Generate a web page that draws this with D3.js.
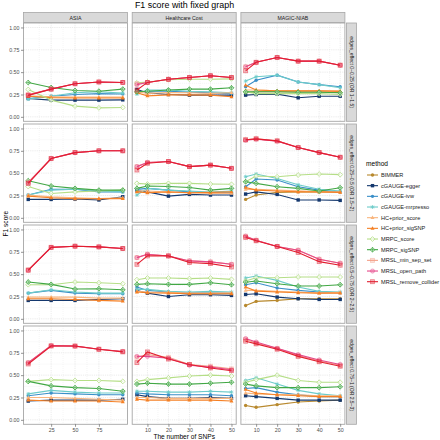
<!DOCTYPE html>
<html><head><meta charset="utf-8">
<script src="https://cdn.jsdelivr.net/npm/d3@7"></script>
<style>body{margin:0;background:#fff;} svg text{font-family:"Liberation Sans",Arial,sans-serif;}</style>
</head><body><svg id="chart" width="440" height="440"></svg>
<script>
// ---------- data ----------
const datasets = ["ASIA", "Healthcare Cost", "MAGIC-NIAB"];
const effects = ["edges_effect 0~0.25 (OR 1~1.5)", "edges_effect 0.25~0.5 (OR 1.5~2)",
                 "edges_effect 0.5~0.75 (OR 2~2.5)", "edges_effect 0.75~1 (OR 2.5~3)"];
const snpsASIA = [1, 25, 50, 75, 100];
const snpsOther = [5, 10, 20, 30, 40, 50];
const xTicksASIA = [25, 50, 75];
const xTicksOther = [10, 20, 30, 40, 50];
const yTicks = [0, 0.25, 0.5, 0.75, 1];
const yTickLabels = ["0.00", "0.25", "0.50", "0.75", "1.00"];
const methods = ["BIMMER", "cGAUGE-egger", "cGAUGE-ivw", "cGAUGE-mrpresso", "HC+prior_score",
  "HC+prior_sigSNP", "MRPC_score", "MRPC_sigSNP", "MRSL_min_sep_set", "MRSL_open_path", "MRSL_remove_collider"];

// values: [effect row][dataset column]
const vBIMMER = [
  [[], [], [0.27, 0.28, 0.28, 0.28, 0.28, 0.27]],
  [[], [], [0.206, 0.255, 0.285, 0.29, 0.29, 0.29]],
  [[], [], [0.15, 0.195, 0.206, 0.225, 0.225, 0.225]],
  [[], [], [0.16, 0.14, 0.17, 0.20, 0.21, 0.22]]
];
const vEgger = [
  [[0.205, 0.187, 0.187, 0.187, 0.19], [0.306, 0.27, 0.25, 0.243, 0.243, 0.243], [0.243, 0.25, 0.254, 0.213, 0.231, 0.231]],
  [[0.206, 0.206, 0.21, 0.20, 0.236], [0.303, 0.29, 0.243, 0.262, 0.255, 0.255], [0.266, 0.29, 0.262, 0.20, 0.20, 0.195]],
  [[0.206, 0.206, 0.206, 0.217, 0.225], [0.318, 0.288, 0.25, 0.27, 0.27, 0.262], [0.273, 0.28, 0.243, 0.225, 0.217, 0.217]],
  [[0.21, 0.22, 0.22, 0.22, 0.23], [0.28, 0.26, 0.24, 0.24, 0.25, 0.24], [0.27, 0.26, 0.24, 0.22, 0.22, 0.22]]
];
const vIvw = [
  [[0.205, 0.23, 0.25, 0.26, 0.255], [0.28, 0.287, 0.287, 0.276, 0.268, 0.26], [0.336, 0.41, 0.466, 0.39, 0.36, 0.336]],
  [[0.255, 0.32, 0.32, 0.29, 0.29], [0.318, 0.33, 0.31, 0.29, 0.28, 0.28], [0.348, 0.434, 0.423, 0.348, 0.31, 0.29]],
  [[0.288, 0.318, 0.288, 0.28, 0.28], [0.356, 0.318, 0.30, 0.292, 0.292, 0.288], [0.382, 0.404, 0.345, 0.318, 0.30, 0.292]],
  [[0.27, 0.30, 0.29, 0.28, 0.28], [0.30, 0.29, 0.28, 0.28, 0.28, 0.27], [0.35, 0.36, 0.31, 0.28, 0.26, 0.26]]
];
const vMrpresso = [
  [[0.198, 0.23, 0.27, 0.28, 0.265], [0.254, 0.30, 0.30, 0.287, 0.28, 0.27], [0.40, 0.448, 0.466, 0.39, 0.36, 0.325]],
  [[0.255, 0.31, 0.32, 0.30, 0.29], [0.255, 0.33, 0.31, 0.30, 0.288, 0.30], [0.46, 0.49, 0.44, 0.37, 0.32, 0.30]],
  [[0.288, 0.326, 0.30, 0.288, 0.288], [0.33, 0.33, 0.307, 0.30, 0.307, 0.30], [0.457, 0.479, 0.43, 0.356, 0.307, 0.30]],
  [[0.29, 0.33, 0.31, 0.30, 0.30], [0.32, 0.32, 0.31, 0.31, 0.32, 0.31], [0.44, 0.47, 0.40, 0.33, 0.29, 0.27]]
];
const vHCscore = [
  [[0.235, 0.225, 0.22, 0.22, 0.22], [0.28, 0.262, 0.273, 0.27, 0.262, 0.27], [0.30, 0.30, 0.29, 0.29, 0.29, 0.29]],
  [[0.255, 0.236, 0.225, 0.217, 0.225], [0.30, 0.30, 0.288, 0.28, 0.273, 0.273], [0.318, 0.318, 0.31, 0.303, 0.29, 0.29]],
  [[0.243, 0.243, 0.243, 0.232, 0.232], [0.307, 0.30, 0.296, 0.288, 0.288, 0.292], [0.318, 0.318, 0.307, 0.30, 0.288, 0.296]],
  [[0.25, 0.25, 0.24, 0.23, 0.22], [0.25, 0.25, 0.24, 0.24, 0.24, 0.24], [0.30, 0.29, 0.28, 0.28, 0.27, 0.27]]
];
const vHCsig = [
  [[0.23, 0.215, 0.21, 0.21, 0.21], [0.27, 0.235, 0.246, 0.246, 0.243, 0.224], [0.354, 0.30, 0.29, 0.29, 0.29, 0.285]],
  [[0.243, 0.225, 0.213, 0.213, 0.215], [0.29, 0.28, 0.29, 0.28, 0.285, 0.29], [0.34, 0.31, 0.30, 0.29, 0.29, 0.285]],
  [[0.225, 0.225, 0.217, 0.206, 0.198], [0.30, 0.292, 0.288, 0.28, 0.28, 0.28], [0.356, 0.31, 0.30, 0.292, 0.288, 0.288]],
  [[0.22, 0.21, 0.21, 0.21, 0.20], [0.23, 0.22, 0.22, 0.22, 0.22, 0.21], [0.34, 0.30, 0.28, 0.27, 0.26, 0.26]]
];
const vMRPCscore = [
  [[0.306, 0.187, 0.12, 0.10, 0.105], [0.38, 0.39, 0.415, 0.42, 0.42, 0.425], [0.28, 0.26, 0.26, 0.26, 0.26, 0.25]],
  [[0.35, 0.273, 0.29, 0.30, 0.31], [0.386, 0.378, 0.386, 0.386, 0.378, 0.375], [0.404, 0.468, 0.46, 0.479, 0.49, 0.483]],
  [[0.382, 0.382, 0.412, 0.404, 0.393], [0.438, 0.457, 0.457, 0.45, 0.457, 0.442], [0.423, 0.46, 0.46, 0.468, 0.468, 0.468]],
  [[0.43, 0.45, 0.44, 0.44, 0.43], [0.43, 0.45, 0.47, 0.49, 0.50, 0.49], [0.42, 0.45, 0.50, 0.44, 0.42, 0.42]]
];
const vMRPCsig = [
  [[0.384, 0.328, 0.295, 0.287, 0.31], [0.28, 0.287, 0.30, 0.31, 0.31, 0.325], [0.28, 0.28, 0.28, 0.275, 0.275, 0.27]],
  [[0.415, 0.356, 0.33, 0.31, 0.31], [0.33, 0.356, 0.35, 0.34, 0.31, 0.33], [0.404, 0.386, 0.348, 0.33, 0.30, 0.337]],
  [[0.412, 0.386, 0.333, 0.337, 0.326], [0.386, 0.393, 0.386, 0.386, 0.404, 0.382], [0.41, 0.423, 0.393, 0.367, 0.367, 0.382]],
  [[0.43, 0.38, 0.36, 0.35, 0.32], [0.40, 0.41, 0.40, 0.40, 0.41, 0.42], [0.40, 0.38, 0.36, 0.36, 0.36, 0.37]]
];
const vMinSep = [
  [[0.25, 0.31, 0.37, 0.39, 0.385], [0.37, 0.385, 0.42, 0.44, 0.46, 0.44], [0.56, 0.61, 0.664, 0.623, 0.623, 0.578]],
  [[0.40, 0.663, 0.73, 0.75, 0.75], [0.573, 0.62, 0.63, 0.573, 0.59, 0.554], [0.873, 0.884, 0.861, 0.786, 0.73, 0.678]],
  [[0.55, 0.80, 0.813, 0.805, 0.787], [0.685, 0.723, 0.704, 0.648, 0.637, 0.61], [0.925, 0.88, 0.81, 0.768, 0.667, 0.622]],
  [[0.64, 0.83, 0.825, 0.79, 0.765], [0.70, 0.73, 0.70, 0.62, 0.60, 0.57], [0.90, 0.86, 0.80, 0.72, 0.66, 0.61]]
];
const vOpenPath = [
  [[0.245, 0.31, 0.37, 0.39, 0.385], [0.36, 0.385, 0.42, 0.44, 0.46, 0.44], [0.56, 0.61, 0.664, 0.623, 0.623, 0.578]],
  [[0.39, 0.663, 0.73, 0.75, 0.75], [0.573, 0.62, 0.63, 0.573, 0.59, 0.554], [0.868, 0.88, 0.858, 0.786, 0.73, 0.678]],
  [[0.545, 0.80, 0.813, 0.805, 0.787], [0.685, 0.723, 0.704, 0.648, 0.637, 0.61], [0.925, 0.88, 0.81, 0.768, 0.667, 0.622]],
  [[0.64, 0.83, 0.825, 0.79, 0.765], [0.71, 0.71, 0.69, 0.61, 0.59, 0.56], [0.91, 0.87, 0.80, 0.73, 0.67, 0.62]]
];
const vRemoveCollider = [
  [[0.24, 0.31, 0.37, 0.39, 0.385], [0.30, 0.385, 0.42, 0.44, 0.46, 0.44], [0.515, 0.61, 0.664, 0.623, 0.623, 0.578]],
  [[0.385, 0.663, 0.73, 0.75, 0.75], [0.535, 0.61, 0.63, 0.573, 0.59, 0.554], [0.873, 0.884, 0.861, 0.786, 0.73, 0.678]],
  [[0.543, 0.80, 0.813, 0.805, 0.787], [0.61, 0.704, 0.704, 0.63, 0.618, 0.58], [0.91, 0.873, 0.81, 0.742, 0.64, 0.60]],
  [[0.625, 0.826, 0.826, 0.79, 0.76], [0.64, 0.76, 0.68, 0.62, 0.58, 0.55], [0.88, 0.85, 0.79, 0.71, 0.65, 0.60]]
];
const seriesValues = [vBIMMER, vEgger, vIvw, vMrpresso, vHCscore, vHCsig, vMRPCscore, vMRPCsig, vMinSep, vOpenPath, vRemoveCollider];

// ---------- styles ----------
const colors = ["#b8892e", "#14386e", "#3a8fc8", "#6ccbc9", "#f9b67e", "#f58025",
  "#b5de87", "#41a744", "#f4a089", "#e6478a", "#e21d2f"];
const shapes = ["circle", "square", "circle", "asterisk", "triangle", "triangle",
  "diamondOpen", "diamondPlus", "squareX", "circlePlus", "squareX"];

// ---------- layout ----------
const svg = d3.select("#chart");
const panelW = 104, panelH = 98.3, colGap = 4.7, rowStep = 101;
const left0 = 23.5, top0 = 23;
const colX = c => left0 + c * (panelW + colGap);
const rowY = r => top0 + r * rowStep;

svg.append("rect").attr("width", 440).attr("height", 440).attr("fill", "#fff");

const xScales = datasets.map((d, c) => {
  const xs = c === 0 ? snpsASIA : snpsOther;
  const [a, b] = d3.extent(xs); const e = (b - a) * 0.05;
  return d3.scaleLinear().domain([a - e, b + e]).range([colX(c), colX(c) + panelW]);
});
const xVals = c => c === 0 ? snpsASIA : snpsOther;
const xTicks = c => c === 0 ? xTicksASIA : xTicksOther;
const yScales = effects.map((e, r) => d3.scaleLinear().domain([-0.05, 1.05]).range([rowY(r) + panelH, rowY(r)]));

function drawShape(g, shape, cx, cy, col) {
  const s = 1.9;
  if (shape === "circle") {
    g.append("circle").attr("cx", cx).attr("cy", cy).attr("r", 1.7).attr("fill", col);
  } else if (shape === "square") {
    g.append("rect").attr("x", cx - 1.7).attr("y", cy - 1.7).attr("width", 3.4).attr("height", 3.4).attr("fill", col);
  } else if (shape === "triangle") {
    g.append("path").attr("d", `M${cx},${cy - 2.2}L${cx + 2},${cy + 1.4}L${cx - 2},${cy + 1.4}Z`).attr("fill", col);
  } else if (shape === "asterisk") {
    g.append("path").attr("d", `M${cx - s},${cy}H${cx + s}M${cx},${cy - s}V${cy + s}M${cx - 1.4},${cy - 1.4}L${cx + 1.4},${cy + 1.4}M${cx - 1.4},${cy + 1.4}L${cx + 1.4},${cy - 1.4}`)
      .attr("stroke", col).attr("stroke-width", 0.8).attr("fill", "none");
  } else if (shape === "diamondOpen" || shape === "diamondPlus") {
    const r = 2.4;
    g.append("path").attr("d", `M${cx},${cy - r}L${cx + r},${cy}L${cx},${cy + r}L${cx - r},${cy}Z`)
      .attr("fill", "#fff").attr("fill-opacity", 0.6).attr("stroke", col).attr("stroke-width", 0.8);
    if (shape === "diamondPlus")
      g.append("path").attr("d", `M${cx - r},${cy}H${cx + r}M${cx},${cy - r}V${cy + r}`).attr("stroke", col).attr("stroke-width", 0.6);
  } else if (shape === "squareX") {
    const r = 2.0;
    g.append("rect").attr("x", cx - r).attr("y", cy - r).attr("width", 2 * r).attr("height", 2 * r)
      .attr("fill", col).attr("fill-opacity", 0.3).attr("stroke", col).attr("stroke-opacity", 0.5).attr("stroke-width", 0.8);
  } else if (shape === "circlePlus") {
    g.append("circle").attr("cx", cx).attr("cy", cy).attr("r", 2.1)
      .attr("fill", col).attr("fill-opacity", 0.3).attr("stroke", col).attr("stroke-opacity", 0.5).attr("stroke-width", 0.8);
  }
}

// title
svg.append("text").attr("x", 184.5).attr("y", 8).attr("text-anchor", "middle")
  .attr("font-size", 8.9).attr("fill", "#000").text("F1 score with fixed graph");

// column strips
datasets.forEach((d, c) => {
  svg.append("rect").attr("x", colX(c)).attr("y", 12.5).attr("width", panelW).attr("height", 10)
    .attr("fill", "#d9d9d9").attr("stroke", "#a6a6a6").attr("stroke-width", 0.8);
  svg.append("text").attr("x", colX(c) + panelW / 2).attr("y", 19.5).attr("text-anchor", "middle")
    .attr("font-size", 5.2).attr("fill", "#1a1a1a").text(d);
});
// row strips
const stripX = colX(2) + panelW + 1.5;
effects.forEach((e, r) => {
  svg.append("rect").attr("x", stripX).attr("y", rowY(r)).attr("width", 10).attr("height", panelH)
    .attr("fill", "#d9d9d9").attr("stroke", "#a6a6a6").attr("stroke-width", 0.8);
  const cy = rowY(r) + panelH / 2;
  svg.append("text").attr("transform", `translate(${stripX + 3.3},${cy}) rotate(90)`)
    .attr("text-anchor", "middle").attr("font-size", 5.0).attr("fill", "#1a1a1a").text(e);
});

// panels
effects.forEach((e, r) => {
  const y = yScales[r];
  datasets.forEach((d, c) => {
    const x = xScales[c];
    const g = svg.append("g");
    const x0 = colX(c), y0 = rowY(r);
    const yMinor = [0.125, 0.375, 0.625, 0.875];
    yMinor.forEach(v => g.append("line").attr("x1", x0).attr("x2", x0 + panelW).attr("y1", y(v)).attr("y2", y(v))
      .attr("stroke", "#ebebeb").attr("stroke-width", 0.5).attr("stroke-dasharray", "1,1"));
    const xt = xTicks(c);
    const step = xt[1] - xt[0];
    const xMinor = [xt[0] - step / 2, ...xt.map(t => t + step / 2)].filter(v => v > x.domain()[0] && v < x.domain()[1]);
    xMinor.forEach(v => g.append("line").attr("x1", x(v)).attr("x2", x(v)).attr("y1", y0).attr("y2", y0 + panelH)
      .attr("stroke", "#ebebeb").attr("stroke-width", 0.5).attr("stroke-dasharray", "1,1"));
    yTicks.forEach(v => g.append("line").attr("x1", x0).attr("x2", x0 + panelW).attr("y1", y(v)).attr("y2", y(v))
      .attr("stroke", "#dedede").attr("stroke-width", 0.6).attr("stroke-dasharray", "1.2,1"));
    xt.forEach(v => g.append("line").attr("x1", x(v)).attr("x2", x(v)).attr("y1", y0).attr("y2", y0 + panelH)
      .attr("stroke", "#dedede").attr("stroke-width", 0.6).attr("stroke-dasharray", "1.2,1"));

    const xs = xVals(c);
    methods.forEach((m, k) => {
      const vals = seriesValues[k][r][c];
      if (!vals || !vals.length) return;
      const pts = vals.map((v, i) => [xs[i], v]);
      g.append("path").datum(pts)
        .attr("d", d3.line().x(p => x(p[0])).y(p => y(p[1])))
        .attr("fill", "none").attr("stroke", colors[k]).attr("stroke-width", 1.1);
      pts.forEach(p => drawShape(g, shapes[k], x(p[0]), y(p[1]), colors[k]));
    });

    g.append("rect").attr("x", x0).attr("y", y0).attr("width", panelW).attr("height", panelH)
      .attr("fill", "none").attr("stroke", "#a6a6a6").attr("stroke-width", 0.9);
  });
  const ax = svg.append("g").attr("transform", `translate(${left0},0)`)
    .call(d3.axisLeft(y).tickValues(yTicks).tickFormat((v, i) => yTickLabels[i]).tickSize(2.5).tickPadding(1.5));
  ax.select(".domain").remove();
  ax.selectAll("line").attr("stroke", "#4d4d4d").attr("stroke-width", 0.6);
  ax.selectAll("text").attr("font-size", 5.3).attr("fill", "#4d4d4d").attr("font-family", "Liberation Sans, Arial, sans-serif");
});

datasets.forEach((d, c) => {
  const ax = svg.append("g").attr("transform", `translate(0,${rowY(3) + panelH})`)
    .call(d3.axisBottom(xScales[c]).tickValues(xTicks(c)).tickSize(2.5).tickPadding(1.5));
  ax.select(".domain").remove();
  ax.selectAll("line").attr("stroke", "#4d4d4d").attr("stroke-width", 0.6);
  ax.selectAll("text").attr("font-size", 5.3).attr("fill", "#4d4d4d").attr("font-family", "Liberation Sans, Arial, sans-serif");
});

svg.append("text").attr("x", (left0 + colX(2) + panelW) / 2).attr("y", 438.5).attr("text-anchor", "middle")
  .attr("font-size", 6.6).attr("fill", "#000").text("The number of SNPs");
svg.append("text").attr("transform", `translate(8,${rowY(0) + (rowY(3) + panelH - rowY(0)) / 2}) rotate(-90)`)
  .attr("text-anchor", "middle").attr("font-size", 6.6).attr("fill", "#000").text("F1 score");

const lg = svg.append("g");
lg.append("text").attr("x", 366).attr("y", 165.5).attr("font-size", 6.6).attr("fill", "#000").text("method");
methods.forEach((m, k) => {
  const cy = 175 + k * 10.67;
  lg.append("line").attr("x1", 367).attr("x2", 378).attr("y1", cy).attr("y2", cy)
    .attr("stroke", colors[k]).attr("stroke-width", 1.1);
  drawShape(lg, shapes[k], 372.5, cy, colors[k]);
  lg.append("text").attr("x", 381).attr("y", cy + 2).attr("font-size", 5.6).attr("fill", "#1a1a1a").text(m);
});
</script>
</body></html>
